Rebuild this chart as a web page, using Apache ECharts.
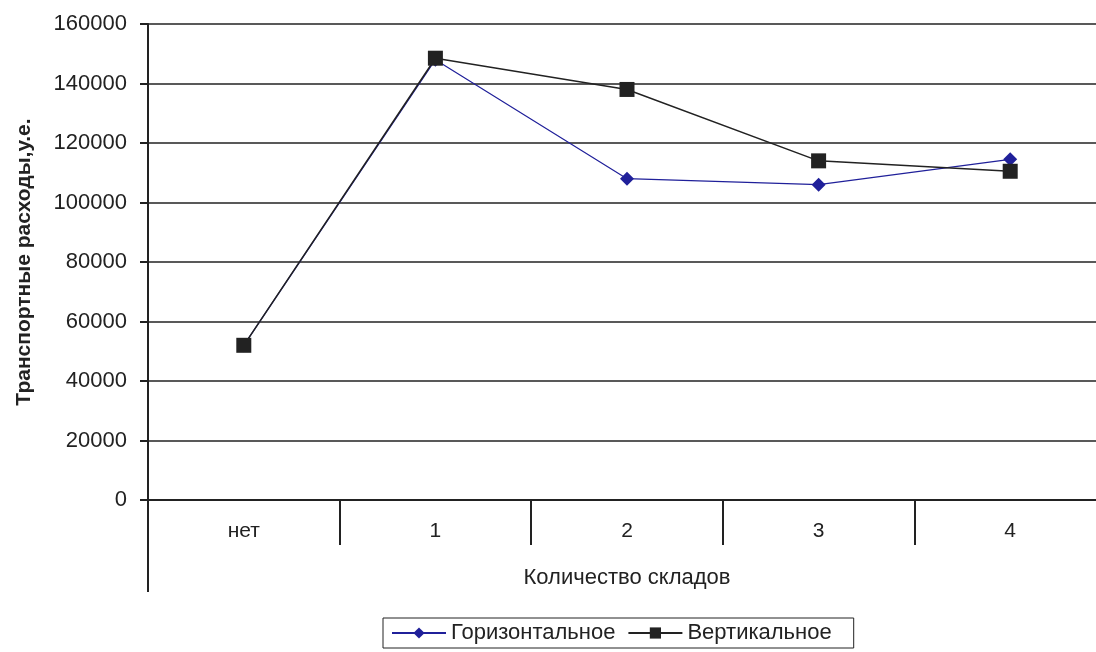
<!DOCTYPE html>
<html>
<head>
<meta charset="utf-8">
<script src="https://cdn.jsdelivr.net/npm/echarts@6/dist/echarts.min.js"></script>
<style>
  html, body { margin: 0; padding: 0; background: #fff; overflow: hidden; }
  /* the original plot runs a little past the right edge of the picture */
  #chart { width: 1106px; height: 652px; }
</style>
</head>
<body>
<div id="chart"></div>
<script>
// categories and values
var categories = ['нет', '1', '2', '3', '4'];
var horizontal = [52000, 148000, 108000, 106000, 114500];
var vertical = [52000, 148500, 138000, 114000, 110500];
var seriesNames = ['Горизонтальное', 'Вертикальное'];

var font = '"Liberation Sans", Arial, sans-serif';

var chart = echarts.init(document.getElementById('chart'));
var option = {
  backgroundColor: '#fff',
  animation: false,
  grid: {
    left: 148,
    right: 0,
    top: 24,
    bottom: 152,
    containLabel: false
  },
  legend: {
    left: 383,
    top: 618,
    data: seriesNames,
    itemWidth: 54,
    itemHeight: 14,
    itemGap: 12,
    padding: [4, 22, 4, 8],
    borderColor: '#222',
    borderWidth: 1,
    borderRadius: 0,
    textStyle: { fontFamily: font, fontSize: 22, color: '#222' }
  },
  xAxis: {
    type: 'category',
    data: categories,
    boundaryGap: true,
    name: 'Количество складов',
    nameLocation: 'middle',
    nameGap: 67,
    nameTextStyle: { fontFamily: font, fontSize: 22, color: '#222' },
    axisLine: { lineStyle: { color: '#222', width: 2 } },
    axisTick: { show: true, length: 45, interval: 0, lineStyle: { color: '#222', width: 2 } },
    axisLabel: { fontFamily: font, fontSize: 21, color: '#222', margin: 21, interval: 0 },
    splitLine: { show: false }
  },
  yAxis: {
    type: 'value',
    min: 0,
    max: 160000,
    interval: 20000,
    name: 'Транспортные расходы,у.е.',
    nameLocation: 'middle',
    nameGap: 113,
    nameRotate: 90,
    nameTextStyle: { fontFamily: font, fontSize: 21, fontWeight: 'bold', color: '#222' },
    axisLine: { show: true, lineStyle: { color: '#222', width: 2 } },
    axisTick: { show: true, length: 8, lineStyle: { color: '#222', width: 2 } },
    axisLabel: {
      fontFamily: font, fontSize: 22, color: '#222', margin: 21,
      formatter: function (v) { return String(v); }
    },
    splitLine: { show: true, lineStyle: { color: '#222', width: 1.5 } }
  },
  series: [
    {
      name: seriesNames[0],
      type: 'line',
      data: horizontal,
      symbol: 'diamond',
      symbolSize: 14,
      showAllSymbol: true,
      itemStyle: { color: '#20209a' },
      lineStyle: { color: '#20209a', width: 1.2 }
    },
    {
      name: seriesNames[1],
      type: 'line',
      data: vertical,
      symbol: 'rect',
      symbolSize: 15,
      showAllSymbol: true,
      itemStyle: { color: '#222' },
      lineStyle: { color: '#222', width: 1.5 }
    }
  ]
};
chart.setOption(option);

// the value axis line runs on below the category axis in the original
var origin = chart.convertToPixel({ gridIndex: 0 }, [0, 0]);
var step = chart.convertToPixel({ xAxisIndex: 0 }, 1) - chart.convertToPixel({ xAxisIndex: 0 }, 0);
var leftX = chart.convertToPixel({ xAxisIndex: 0 }, 0) - step / 2;
chart.setOption({
  graphic: [{
    type: 'line',
    shape: { x1: leftX, y1: origin[1], x2: leftX, y2: origin[1] + 92 },
    style: { stroke: '#222', lineWidth: 2 }
  }]
});
</script>
</body>
</html>
